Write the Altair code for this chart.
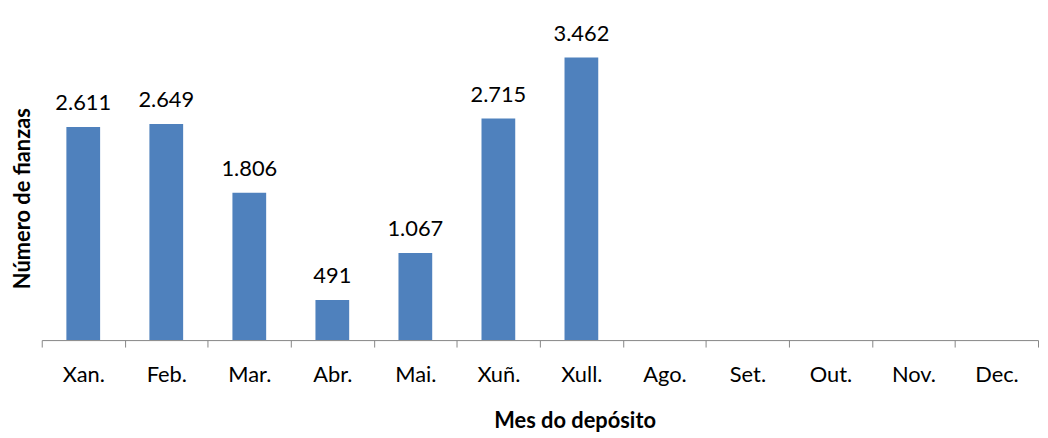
import altair as alt
import pandas as pd

months = ["Xan.", "Feb.", "Mar.", "Abr.", "Mai.", "Xuñ.", "Xull.", "Ago.", "Set.", "Out.", "Nov.", "Dec."]
values = [2611, 2649, 1806, 491, 1067, 2715, 3462, None, None, None, None, None]

df = pd.DataFrame({"mes": months, "n": values})
df["label"] = [("" if v is None or pd.isna(v) else f"{int(v):,}".replace(",", ".")) for v in df["n"]]

FONT = "Lato"

x = alt.X(
    "mes:N",
    sort=months,
    scale=alt.Scale(paddingInner=0, paddingOuter=0),
    axis=alt.Axis(
        title="Mes do depósito",
        titleFont=FONT, titleFontSize=22, titleFontWeight="bold", titleColor="#000",
        titleX=537, titleY=81, titleBaseline="middle", titleAnchor="start", titleAlign="center",
        labelFont=FONT, labelFontSize=22, labelColor="#000", labelAngle=0,
        labelPadding=35, labelBaseline="alphabetic",
        tickBand="extent", tickSize=7, tickColor="#868686", domainColor="#868686",
        grid=False,
    ),
)
y = alt.Y(
    "n:Q",
    scale=alt.Scale(domain=[0, 4000]),
    axis=alt.Axis(
        title="Número de fianzas",
        titleFont=FONT, titleFontSize=22, titleFontWeight="bold", titleColor="#000",
        titleX=-19, titleY=186, titleAngle=270, titleAlign="center", titleBaseline="middle",
        labels=False, ticks=False, domain=False, grid=False,
    ),
)

bars = alt.Chart(df).mark_bar(size=34, color="#4F81BD").encode(x=x, y=y)
text = alt.Chart(df).mark_text(
    font=FONT, fontSize=22, color="#000", baseline="bottom", dy=-12
).encode(x=alt.X("mes:N", sort=months), y=alt.Y("n:Q"), text="label:N")

chart = (bars + text).properties(
    width=1004, height=329,
    autosize=alt.AutoSizeParams(type="none"),
    padding={"left": 34, "top": 4, "right": 2, "bottom": 97},
).configure_view(stroke=None)

chart.save("out.html", embed_options={"renderer": "svg", "actions": False})
